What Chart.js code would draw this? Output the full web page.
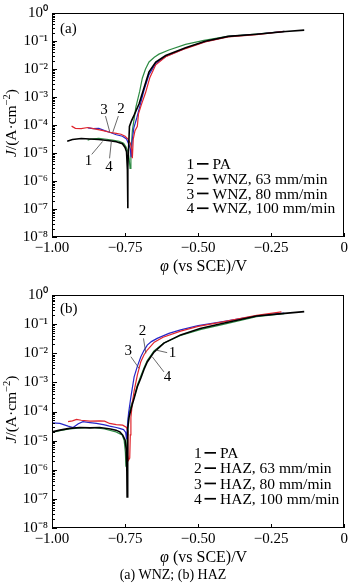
<!DOCTYPE html>
<html><head><meta charset="utf-8">
<script src="https://cdn.jsdelivr.net/npm/chart.js@4.4.1/dist/chart.umd.min.js"></script>
<style>
html,body{margin:0;padding:0;background:#fff;}
body{width:350px;height:588px;position:relative;overflow:hidden;}
canvas{position:absolute;left:0;}
#ca{top:0;} #cb{top:280px;}
#cap{position:absolute;left:0;top:567px;width:346px;text-align:center;font:14px "Liberation Serif",serif;color:#000;line-height:16px;}
</style></head><body>
<canvas id="ca" width="350" height="280"></canvas>
<canvas id="cb" width="350" height="290"></canvas>
<div id="cap">(a) WNZ; (b) HAZ</div>
<script>
// ---------- tick values / labels ----------
const xTickValues = [-1, -0.75, -0.5, -0.25, 0];
const xTickLabels = ['\u22121.00', '\u22120.75', '\u22120.50', '\u22120.25', '0'];
const yTickValues = [1e-8, 1e-7, 1e-6, 1e-5, 1e-4, 1e-3, 1e-2, 1e-1, 1];
const yTickLabels = ['10\u207B\u2078', '10\u207B\u2077', '10\u207B\u2076', '10\u207B\u2075', '10\u207B\u2074', '10\u207B\u00B3', '10\u207B\u00B2', '10\u207B\u00B9', '10\u2070'];

// ---------- series names ----------
const seriesNamesA = ['PA', 'WNZ, 63 mm/min', 'WNZ, 80 mm/min', 'WNZ, 100 mm/min'];
const seriesNamesB = ['PA', 'HAZ, 63 mm/min', 'HAZ, 80 mm/min', 'HAZ, 100 mm/min'];

// ---------- panel (a) WNZ : potential (V vs SCE) and current density (A/cm2) ----------
const potA1 = [-0.948,-0.93,-0.90,-0.871,-0.84,-0.803,-0.78,-0.759,-0.750,-0.745,-0.742,-0.741,-0.740,-0.737,-0.735,-0.728,-0.719,-0.702,-0.685,-0.668,-0.645,-0.611,-0.543,-0.476,-0.397,-0.30,-0.20,-0.137];
const curA1 = [2.63e-5,3.02e-5,3.31e-5,3.16e-5,3.02e-5,2.75e-5,2.51e-5,2.14e-5,1.58e-5,1.12e-5,2.51e-6,1.07e-7,3.16e-6,2.51e-5,8.91e-5,1.41e-4,2.24e-4,5.75e-4,2.14e-3,7.94e-3,1.78e-2,3.02e-2,5.75e-2,9.77e-2,1.46e-1,1.75e-1,2.19e-1,2.45e-1];

const potA2 = [-0.933,-0.92,-0.90,-0.878,-0.85,-0.825,-0.803,-0.78,-0.764,-0.75,-0.74,-0.732,-0.727,-0.725,-0.722,-0.716,-0.708,-0.704,-0.695,-0.68,-0.665,-0.645,-0.611,-0.543,-0.476,-0.397,-0.30,-0.205];
const curA2 = [9.12e-5,7.59e-5,7.41e-5,8.13e-5,7.08e-5,6.31e-5,5.50e-5,5.01e-5,4.68e-5,3.98e-5,3.16e-5,2.24e-5,1.26e-5,6.46e-6,3.16e-5,6.31e-5,8.91e-5,2.51e-4,5.01e-4,1.41e-3,5.01e-3,1.41e-2,2.75e-2,5.37e-2,9.33e-2,1.41e-1,1.70e-1,2.19e-1];

const potA3 = [-0.877,-0.86,-0.84,-0.82,-0.803,-0.78,-0.759,-0.745,-0.737,-0.732,-0.729,-0.726,-0.72,-0.71,-0.70,-0.685,-0.668,-0.645,-0.611,-0.543,-0.476,-0.397,-0.30,-0.205];
const curA3 = [7.94e-5,7.41e-5,7.59e-5,6.31e-5,5.50e-5,4.47e-5,3.98e-5,3.16e-5,2.00e-5,1.41e-5,7.08e-6,2.51e-5,7.94e-5,1.78e-4,4.47e-4,1.78e-3,6.31e-3,1.58e-2,2.82e-2,5.50e-2,9.55e-2,1.45e-1,1.74e-1,2.19e-1];

const potA4 = [-0.878,-0.866,-0.84,-0.82,-0.793,-0.77,-0.755,-0.747,-0.740,-0.736,-0.733,-0.730,-0.725,-0.713,-0.70,-0.691,-0.68,-0.668,-0.650,-0.634,-0.60,-0.543,-0.48,-0.40,-0.30,-0.205];
const curA4 = [2.88e-5,3.16e-5,3.31e-5,3.16e-5,2.88e-5,2.63e-5,2.24e-5,1.66e-5,1.12e-5,6.31e-6,2.82e-6,1.00e-5,6.31e-5,4.37e-4,1.58e-3,4.68e-3,1.00e-2,1.78e-2,2.63e-2,3.39e-2,4.79e-2,7.59e-2,1.05e-1,1.48e-1,1.78e-1,2.19e-1];

// ---------- panel (b) HAZ ----------
const potB1 = [-1.0,-0.973,-0.94,-0.905,-0.87,-0.837,-0.80,-0.781,-0.768,-0.758,-0.750,-0.746,-0.744,-0.743,-0.742,-0.740,-0.736,-0.728,-0.719,-0.708,-0.696,-0.685,-0.674,-0.651,-0.617,-0.560,-0.493,-0.414,-0.30,-0.204,-0.137];
const curB1 = [2.00e-5,2.29e-5,2.63e-5,2.82e-5,2.75e-5,2.82e-5,2.51e-5,2.29e-5,2.00e-5,1.55e-5,1.05e-5,5.01e-6,1.00e-6,1.17e-7,6.31e-6,2.51e-5,6.61e-5,1.41e-4,2.82e-4,7.08e-4,1.41e-3,2.82e-3,5.01e-3,1.10e-2,2.24e-2,4.27e-2,7.08e-2,1.07e-1,1.91e-1,2.34e-1,2.69e-1];

const potB2 = [-0.945,-0.93,-0.916,-0.90,-0.87,-0.837,-0.82,-0.803,-0.78,-0.758,-0.745,-0.741,-0.740,-0.738,-0.734,-0.732,-0.730,-0.725,-0.719,-0.708,-0.696,-0.685,-0.674,-0.65,-0.62,-0.56,-0.50,-0.42,-0.30,-0.215];
const curB2 = [4.47e-5,4.79e-5,5.37e-5,5.01e-5,4.68e-5,4.79e-5,4.68e-5,3.89e-5,3.55e-5,3.39e-5,2.82e-5,2.24e-5,3.16e-6,2.14e-6,2.51e-6,1.58e-5,6.31e-5,2.00e-4,5.01e-4,1.78e-3,5.13e-3,8.91e-3,1.29e-2,2.40e-2,3.55e-2,5.75e-2,8.32e-2,1.17e-1,2.00e-1,2.63e-1];

const potB3 = [-1.0,-0.973,-0.945,-0.928,-0.91,-0.894,-0.87,-0.848,-0.82,-0.803,-0.78,-0.769,-0.755,-0.748,-0.745,-0.742,-0.738,-0.730,-0.719,-0.708,-0.696,-0.685,-0.674,-0.660,-0.640,-0.60,-0.560,-0.50,-0.42,-0.30,-0.205];
const curB3 = [4.07e-5,3.89e-5,3.16e-5,2.82e-5,3.80e-5,4.47e-5,4.17e-5,3.89e-5,3.47e-5,3.16e-5,2.82e-5,2.63e-5,2.40e-5,1.91e-5,1.12e-5,3.16e-5,8.91e-5,3.16e-4,1.55e-3,3.55e-3,7.59e-3,1.26e-2,1.91e-2,2.51e-2,3.24e-2,4.79e-2,6.31e-2,8.91e-2,1.20e-1,1.91e-1,2.40e-1];

const potB4 = [-1.0,-0.973,-0.94,-0.90,-0.861,-0.82,-0.781,-0.760,-0.753,-0.749,-0.747,-0.745,-0.743,-0.740,-0.735,-0.728,-0.719,-0.708,-0.696,-0.685,-0.674,-0.651,-0.617,-0.56,-0.49,-0.41,-0.30,-0.205];
const curB4 = [1.91e-5,2.19e-5,2.51e-5,2.75e-5,2.82e-5,2.51e-5,2.00e-5,1.58e-5,1.00e-5,3.98e-6,1.26e-6,3.16e-6,1.58e-5,5.01e-5,1.00e-4,1.78e-4,3.16e-4,7.94e-4,1.66e-3,3.16e-3,5.62e-3,1.20e-2,2.24e-2,4.07e-2,6.61e-2,1.00e-1,1.82e-1,2.29e-1];

// ---------- styling ----------
const lineColors = ['#000000', '#e0262e', '#2626c8', '#2e8c44'];
const lineWidths = [1.6, 1.2, 1.2, 1.2];
const FONT = '"Liberation Serif", "Times New Roman", serif';

function pts(xs, ys) { return xs.map((x, i) => ({ x: x, y: ys[i] })); }
function makeSets(names, pairs) {
  return pairs.map((p, i) => ({
    label: names[i], data: pts(p[0], p[1]),
    borderColor: lineColors[i], backgroundColor: lineColors[i],
    borderWidth: lineWidths[i], pointRadius: 0, tension: 0, fill: false
  }));
}

// annotation callouts (in data units: potential, current density)
const calloutsA = [
  { t: '3', lx: -0.822, ly: 3.39e-4, x1: -0.817, y1: 2.09e-4, x2: -0.802, y2: 5.50e-5 },
  { t: '2', lx: -0.764, ly: 3.63e-4, x1: -0.773, y1: 2.09e-4, x2: -0.792, y2: 5.50e-5 },
  { t: '1', lx: -0.875, ly: 5.13e-6, x1: -0.864, y1: 8.91e-6, x2: -0.827, y2: 2.57e-5 },
  { t: '4', lx: -0.805, ly: 3.16e-6, x1: -0.803, y1: 6.46e-6, x2: -0.797, y2: 2.57e-5 }
];
const calloutsB = [
  { t: '2', lx: -0.690, ly: 5.62e-2, x1: -0.687, y1: 3.24e-2, x2: -0.679, y2: 1.0e-2 },
  { t: '3', lx: -0.739, ly: 1.15e-2, x1: -0.730, y1: 7.59e-3, x2: -0.702, y2: 3.02e-3 },
  { t: '1', lx: -0.588, ly: 1.02e-2, x1: -0.606, y1: 1.05e-2, x2: -0.645, y2: 1.29e-2 },
  { t: '4', lx: -0.605, ly: 1.58e-3, x1: -0.617, y1: 2.29e-3, x2: -0.657, y2: 7.59e-3 }
];

const framePlugin = {
  id: 'frame',
  afterDatasetsDraw(chart, args, o) {
    const { ctx, chartArea: a } = chart;
    const xs = chart.scales.x, ys = chart.scales.y;
    ctx.save();
    ctx.strokeStyle = '#000'; ctx.lineWidth = 1;
    // frame
    ctx.strokeRect(Math.round(a.left) + 0.5, Math.round(a.top) + 0.5, Math.round(a.right - a.left) - 1, Math.round(a.bottom - a.top) - 1);
    // y ticks (inward, with minor ticks)
    ctx.beginPath();
    for (let e = -8; e <= 0; e++) {
      for (let m = 1; m <= 9; m++) {
        if (e === 0 && m > 1) break;
        const py = Math.round(ys.getPixelForValue(m * Math.pow(10, e))) + 0.5;
        const len = m === 1 ? 5 : 3;
        ctx.moveTo(a.left, py); ctx.lineTo(a.left + len, py);
      }
    }
    // x ticks (inward)
    xTickValues.forEach(v => {
      const px = Math.round(xs.getPixelForValue(v)) + 0.5;
      ctx.moveTo(px, a.bottom); ctx.lineTo(px, a.bottom - 4);
    });
    ctx.stroke();

    ctx.fillStyle = '#000';
    ctx.textBaseline = 'alphabetic';
    ctx.textAlign = 'left';
    // panel label
    ctx.font = '15px ' + FONT;
    ctx.fillText(o.panel, a.left + 8, a.top + o.panelDy);
    // legend
    ctx.font = '15.5px ' + FONT;
    o.names.forEach((name, i) => {
      const by = a.top + o.legendTop + i * o.legendGap;
      ctx.fillText(String(i + 1), o.legendX, by);
      ctx.fillRect(o.legendX + 10.5, by - 6, 11.5, 1.7);
      ctx.fillText(name, o.legendX + 26, by);
    });
    // callouts
    ctx.font = '15px ' + FONT;
    ctx.textAlign = 'center'; ctx.textBaseline = 'middle';
    ctx.strokeStyle = '#444'; ctx.lineWidth = 0.8;
    o.callouts.forEach(c => {
      ctx.fillText(c.t, xs.getPixelForValue(c.lx), ys.getPixelForValue(c.ly));
      ctx.beginPath();
      ctx.moveTo(xs.getPixelForValue(c.x1), ys.getPixelForValue(c.y1));
      ctx.lineTo(xs.getPixelForValue(c.x2), ys.getPixelForValue(c.y2));
      ctx.stroke();
    });
    // x axis title: φ (vs SCE)/V
    ctx.textAlign = 'left'; ctx.textBaseline = 'alphabetic';
    const xParts = [{ t: '\u03C6', f: 'italic 16px ' + FONT }, { t: ' (vs SCE)/V', f: '16px ' + FONT }];
    let tw = 0;
    xParts.forEach(p => { ctx.font = p.f; p.w = ctx.measureText(p.t).width; tw += p.w; });
    let cx = (a.left + a.right) / 2 + 5.5 - tw / 2;
    const by = a.bottom + 34;
    xParts.forEach(p => { ctx.font = p.f; ctx.fillText(p.t, cx, by); cx += p.w; });
    // y axis title: J/(A·cm−2)
    const yParts = [
      { t: 'J', f: 'italic 15.5px ' + FONT, dy: 0 },
      { t: '/(A\u00B7cm', f: '15.5px ' + FONT, dy: 0 },
      { t: '\u22122', f: '10.5px ' + FONT, dy: -6 },
      { t: ')', f: '15.5px ' + FONT, dy: 0 }
    ];
    tw = 0;
    yParts.forEach(p => { ctx.font = p.f; p.w = ctx.measureText(p.t).width; tw += p.w; });
    ctx.translate(11, (a.top + a.bottom) / 2 - 2);
    ctx.rotate(-Math.PI / 2);
    let tx = -tw / 2;
    yParts.forEach(p => { ctx.font = p.f; ctx.fillText(p.t, tx, 5 + p.dy); tx += p.w; });
    ctx.restore();
  }
};

function makeChart(id, datasets, cfg) {
  return new Chart(document.getElementById(id), {
    type: 'line',
    data: { datasets: datasets },
    options: {
      responsive: false, animation: false, devicePixelRatio: 1,
      layout: { padding: { top: cfg.padTop, right: 3, left: 0, bottom: 0 } },
      plugins: { legend: { display: false }, tooltip: { enabled: false }, frame: cfg },
      scales: {
        x: {
          type: 'linear', min: -1, max: 0,
          grid: { display: false, drawTicks: false }, border: { display: false },
          afterBuildTicks: s => { s.ticks = xTickValues.map(v => ({ value: v })); },
          afterFit: s => { s.height = cfg.xAxisH; },
          ticks: {
            callback: (v, i) => xTickLabels[i],
            font: { family: FONT, size: 15 }, color: '#000', padding: 2,
            maxRotation: 0, autoSkip: false
          }
        },
        y: {
          type: 'logarithmic', min: 1e-8, max: 1,
          grid: { display: false, drawTicks: false }, border: { display: false },
          afterBuildTicks: s => { s.ticks = yTickValues.map(v => ({ value: v, major: true })); },
          afterFit: s => { s.width = 52; },
          ticks: {
            callback: (v, i) => yTickLabels[i],
            font: { family: FONT, size: 15 }, color: '#000', padding: 4, autoSkip: false
          }
        }
      }
    },
    plugins: [framePlugin]
  });
}

makeChart('ca', makeSets(seriesNamesA, [[potA1, curA1], [potA2, curA2], [potA3, curA3], [potA4, curA4]]), {
  padTop: 4, xAxisH: 43, panel: '(a)', panelDy: 20,
  names: seriesNamesA, legendX: 186.5, legendTop: 156, legendGap: 14.8, callouts: calloutsA
});
makeChart('cb', makeSets(seriesNamesB, [[potB1, curB1], [potB2, curB2], [potB3, curB3], [potB4, curB4]]), {
  padTop: 15, xAxisH: 42, panel: '(b)', panelDy: 18,
  names: seriesNamesB, legendX: 194, legendTop: 163, legendGap: 15.3, callouts: calloutsB
});
</script></body></html>
